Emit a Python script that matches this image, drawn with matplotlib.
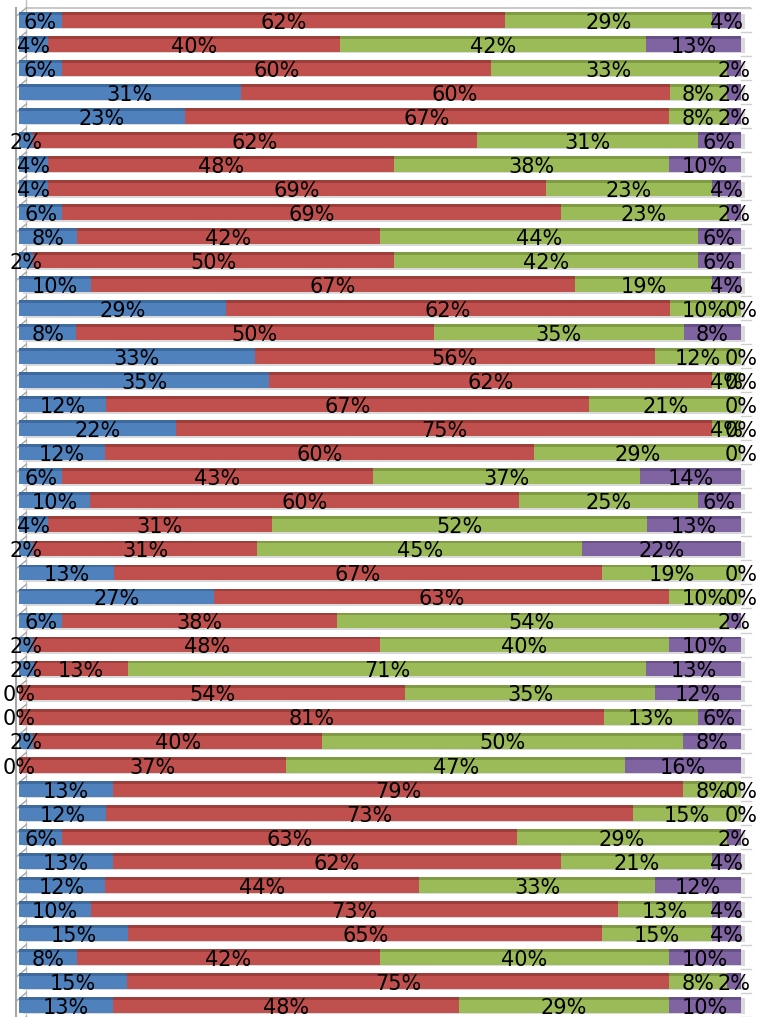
import matplotlib.pyplot as plt
import numpy as np

# four answer shares per row, top row first
blue = [6, 4, 6, 31, 23, 2, 4, 4, 6, 8, 2, 10, 29, 8, 33, 35, 12, 22, 12, 6, 10,
        4, 2, 13, 27, 6, 2, 2, 0, 0, 2, 0, 13, 12, 6, 13, 12, 10, 15, 8, 15, 13]
red = [62, 40, 60, 60, 67, 62, 48, 69, 69, 42, 50, 67, 62, 50, 56, 62, 67, 75, 60, 43, 60,
       31, 31, 67, 63, 38, 48, 13, 54, 81, 40, 37, 79, 73, 63, 62, 44, 73, 65, 42, 75, 48]
green = [29, 42, 33, 8, 8, 31, 38, 23, 23, 44, 42, 19, 10, 35, 12, 4, 21, 4, 29, 37, 25,
         52, 45, 19, 10, 54, 40, 71, 35, 13, 50, 47, 8, 15, 29, 21, 33, 13, 15, 40, 8, 29]
purple = [4, 13, 2, 2, 2, 6, 10, 4, 2, 6, 6, 4, 0, 8, 0, 0, 0, 0, 0, 14, 6,
          13, 22, 0, 0, 2, 10, 13, 12, 6, 8, 16, 0, 0, 2, 4, 12, 4, 4, 10, 2, 10]

series = [blue, red, green, purple]
colors = ['#4F81BD', '#C0504D', '#9BBB59', '#8064A2']
tops = ['#3E6A9E', '#9E3E3B', '#7F9C45', '#674F87']

n = len(blue)
rows = np.arange(n)

fig = plt.figure(figsize=(7.57, 10.17), dpi=100)
ax = fig.add_axes([0, 0, 1, 1])

# each row scaled to 100 %
tot = np.array(series, dtype=float).sum(axis=0)
left = np.zeros(n)
h = 0.66
for vals, c, tc in zip(series, colors, tops):
    w = np.array(vals) / tot * 100
    # faint gray shadow under the bar
    ax.barh(rows + 0.06, w, left=left + 0.6, height=h, color='#D9D9D9', zorder=1)
    ax.barh(rows, w, left=left, height=h, color=c, zorder=2)
    ax.barh(rows - h / 2 + 0.06, w, left=left, height=0.12, color=tc, zorder=3)
    for y, l, ww, v in zip(rows, left, w, vals):
        ax.text(l + ww / 2, y + 0.12, f'{v}%', ha='center', va='center',
                fontsize=15, color='black', zorder=5)
    left = left + w

# 3D side wall
ax.plot([-0.4, -0.4], [-0.5, 41.6], color='#A6A6A6', lw=1.5, zorder=0)
ax.plot([1.0, 1.0], [-0.85, 41.6], color='#BFBFBF', lw=1.0, zorder=0)
ax.plot([1.0, 101.2], [-0.5, -0.5], color='#BFBFBF', lw=1.2, zorder=0)
for y in np.arange(-0.5, n, 1.0):
    ax.plot([-0.4, 1.0], [y + 0.35, y], color='#A6A6A6', lw=1.0, zorder=0)
    ax.plot([100, 101.4], [y, y], color='#D0D0D0', lw=1.0, zorder=0)

ax.set_xlim(-19 / 7.22, (757 - 19) / 7.22)
ax.set_ylim((1017 - 20) / 24.02, -20 / 24.02)
ax.axis('off')

fig.savefig('out.png', dpi=100)
